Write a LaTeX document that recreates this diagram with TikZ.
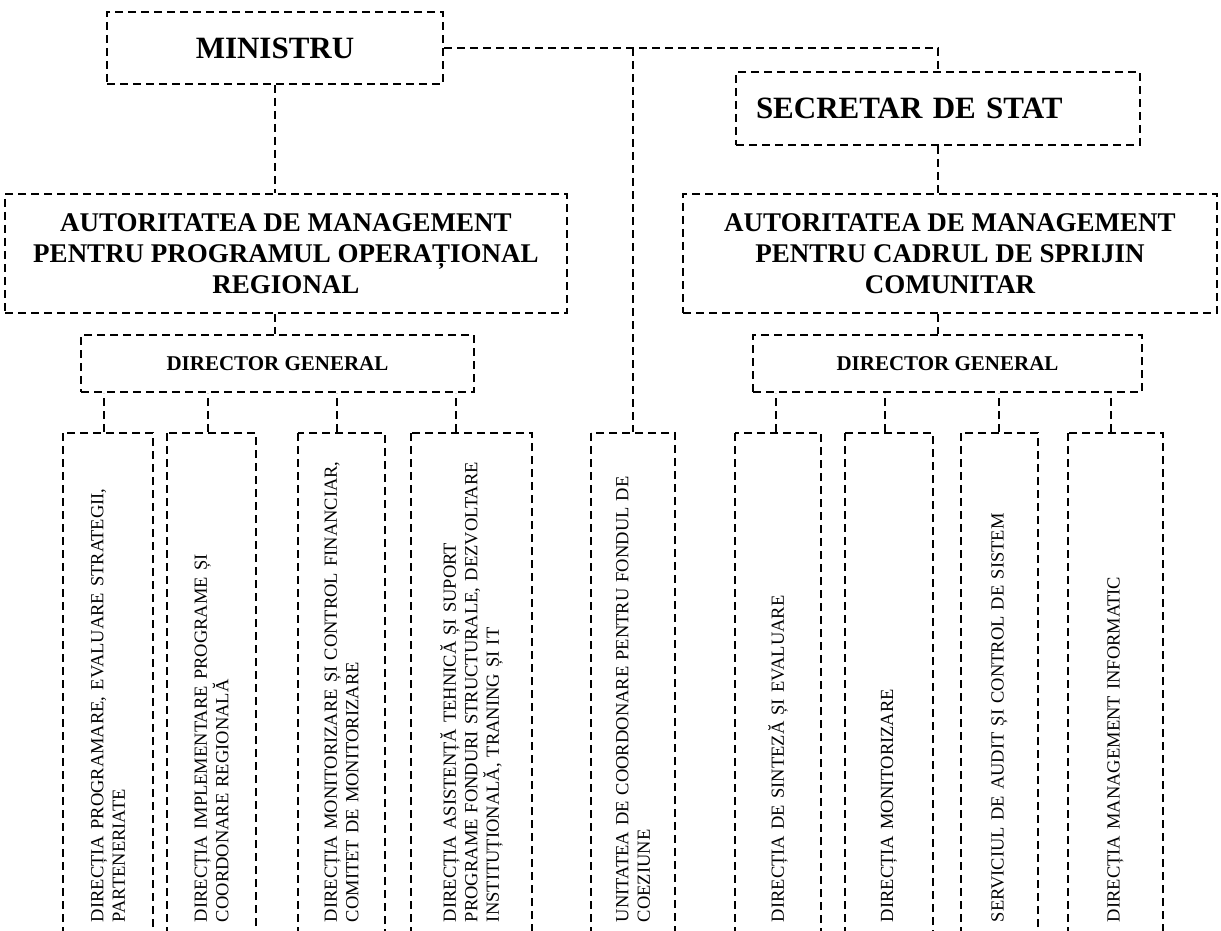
\documentclass[tikz,border=0pt]{standalone}
\usepackage{fontspec}
\setmainfont{Liberation Serif}

\begin{document}
\begin{tikzpicture}[x=1pt,y=-1pt,
    % styles
    chart line/.style={line width=2pt,dash pattern=on 8pt off 5pt},
    head box/.style={chart line,draw,inner sep=0pt,
      font=\fontsize{31}{36}\selectfont\bfseries},
    unit box/.style={chart line,draw,inner sep=0pt,align=center,
      font=\fontsize{27}{31}\selectfont\bfseries},
    chief box/.style={chart line,draw,inner sep=0pt,
      font=\fontsize{21}{24}\selectfont\bfseries},
    dept box/.style={chart line,draw,rotate=90,align=left,
      text width=477pt,inner xsep=12pt,inner ysep=0pt,
      font=\fontsize{18.5}{21.5}\selectfont},
    link/.style={chart line}]

  \clip (0,0) rectangle (1221,931);

  % leaders
  \node [head box,minimum width=336pt,minimum height=72pt] (min) at (275,48) {MINISTRU};
  \node [head box,minimum width=404pt,minimum height=73pt,text width=364pt,align=left]
    (sec) at (938,108.5) {SECRETAR DE STAT};

  % management authorities
  \node [unit box,minimum width=562pt,minimum height=119pt] (aml) at (286,253.5)
    {AUTORITATEA DE MANAGEMENT\\PENTRU PROGRAMUL OPERAȚIONAL\\REGIONAL};
  \node [unit box,minimum width=534pt,minimum height=119pt] (amr) at (950,253.5)
    {AUTORITATEA DE MANAGEMENT\\PENTRU CADRUL DE SPRIJIN\\COMUNITAR};

  % directors
  \node [chief box,minimum width=393pt,minimum height=57pt] (dgl) at (277.5,363.5) {DIRECTOR GENERAL};
  \node [chief box,minimum width=389pt,minimum height=57pt] (dgr) at (947.5,363.5) {DIRECTOR GENERAL};

  % departments
  \node [dept box,minimum height=90pt] (dps) at (108,683.5)
    {DIRECȚIA PROGRAMARE, EVALUARE STRATEGII,\\PARTENERIATE};
  \node [dept box,minimum height=89pt] (dip) at (211.5,683.5)
    {DIRECȚIA IMPLEMENTARE PROGRAME ȘI\\COORDONARE REGIONALĂ};
  \node [dept box,minimum height=87pt] (dmc) at (341.5,683.5)
    {DIRECȚIA MONITORIZARE ȘI CONTROL FINANCIAR,\\COMITET DE MONITORIZARE};
  \node [dept box,minimum height=121pt] (dat) at (471.5,683.5)
    {DIRECȚIA ASISTENȚĂ TEHNICĂ ȘI SUPORT\\PROGRAME FONDURI STRUCTURALE, DEZVOLTARE\\INSTITUȚIONALĂ, TRANING ȘI IT};
  \node [dept box,minimum height=84pt] (ucf) at (633,683.5)
    {UNITATEA DE COORDONARE PENTRU FONDUL DE\\COEZIUNE};
  \node [dept box,minimum height=86pt] (dse) at (778,683.5)
    {DIRECȚIA DE SINTEZĂ ȘI EVALUARE};
  \node [dept box,minimum height=88pt] (dmo) at (889,683.5)
    {DIRECȚIA MONITORIZARE};
  \node [dept box,minimum height=77pt] (sac) at (999.5,683.5)
    {SERVICIUL DE AUDIT ȘI CONTROL DE SISTEM};
  \node [dept box,minimum height=95pt] (dmi) at (1115.5,683.5)
    {DIRECȚIA MANAGEMENT INFORMATIC};

  % links between levels
  \draw [link] (min.south) -- (min.south |- aml.north);
  \draw [link] (min.south |- aml.south) -- (min.south |- dgl.north);
  \draw [link] (min.east) -| (sec.north);
  \draw [link] (sec.south) -- (sec.south |- amr.north);
  \draw [link] (sec.south |- amr.south) -- (sec.south |- dgr.north);
  \draw [link] (min.east -| ucf.east) -- (ucf.east);

  % links to departments
  \foreach \b/\dx in {dps/-4,dip/-3.5,dmc/-4.5,dat/-15.5}
    \draw [link] ([xshift=\dx pt]\b.east) -- ([xshift=\dx pt]\b.east |- dgl.south);
  \foreach \b/\dx in {dse/-2,dmo/-4,sac/-0.5,dmi/-4.5}
    \draw [link] ([xshift=\dx pt]\b.east) -- ([xshift=\dx pt]\b.east |- dgr.south);

\end{tikzpicture}
\end{document}
